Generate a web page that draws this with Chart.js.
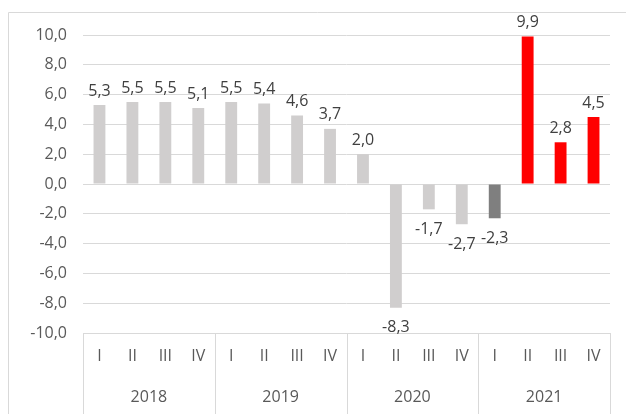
<!DOCTYPE html>
<html>
<head>
<meta charset="utf-8">
<script src="https://cdn.jsdelivr.net/npm/chart.js@4/dist/chart.umd.min.js"></script>
<style>
    html, body { margin: 0; padding: 0; background: #fff; }
    #wrap { width: 626px; height: 414px; position: relative; }
</style>
</head>
<body>
<div id="wrap"><canvas id="chart-growth"></canvas></div>
<script>
// Quarterly values
const quarters = ['I', 'II', 'III', 'IV', 'I', 'II', 'III', 'IV', 'I', 'II', 'III', 'IV', 'I', 'II', 'III', 'IV'];
const years = ['2018', '2019', '2020', '2021'];
const growth = [5.3, 5.5, 5.5, 5.1, 5.5, 5.4, 4.6, 3.7, 2.0, -8.3, -1.7, -2.7, -2.3, 9.9, 2.8, 4.5];
const yTicks = [-10, -8, -6, -4, -2, 0, 2, 4, 6, 8, 10];

const LIGHT = '#d0cece', DARK = '#7f7f7f', RED = '#ff0000';
const barColors = growth.map((v, i) => i < 12 ? LIGHT : (i === 12 ? DARK : RED));

const TEXT = '#595959';
const FONT = '"Open Sans", "Liberation Sans", sans-serif';
const fmt = v => v.toFixed(1).replace('.', ',');

// frame + year groups under the axis
const groupAxis = {
    id: 'groupAxis',
    beforeDraw(chart) {
        const ctx = chart.ctx;
        ctx.save();
        ctx.strokeStyle = '#d9d9d9';
        ctx.lineWidth = 1;
        ctx.beginPath();
        ctx.moveTo(8.5, 414); ctx.lineTo(8.5, 12.5); ctx.lineTo(626, 12.5);
        ctx.stroke();
        ctx.restore();
    },
    afterDraw(chart) {
        const ctx = chart.ctx;
        const xs = chart.scales.x;
        const area = chart.chartArea;
        const step = (area.right - area.left) / quarters.length;
        ctx.save();
        ctx.strokeStyle = '#d9d9d9';
        ctx.lineWidth = 1;
        for (let g = 0; g <= years.length; g++) {
            const x = Math.round(area.left + g * 4 * step) + 0.5;
            ctx.beginPath();
            ctx.moveTo(x, area.bottom);
            ctx.lineTo(x, chart.height);
            ctx.stroke();
        }
        ctx.fillStyle = TEXT;
        ctx.font = '16px ' + FONT;
        ctx.textAlign = 'center';
        ctx.textBaseline = 'middle';
        years.forEach((y, g) => {
            const cx = (xs.getPixelForValue(g * 4) + xs.getPixelForValue(g * 4 + 3)) / 2;
            ctx.fillText(y, cx, 397);
        });
        ctx.restore();
    }
};

// value labels on the bars
const barLabels = {
    id: 'barLabels',
    afterDatasetsDraw(chart) {
        const ctx = chart.ctx;
        const meta = chart.getDatasetMeta(0);
        ctx.save();
        ctx.fillStyle = '#404040';
        ctx.font = '16px ' + FONT;
        ctx.textAlign = 'center';
        ctx.textBaseline = 'middle';
        meta.data.forEach((bar, i) => {
            const v = growth[i];
            const y = v >= 0 ? bar.y - 14 : bar.y + 20;
            ctx.fillText(fmt(v), bar.x, y);
        });
        ctx.restore();
    }
};

const ctxGrowth = document.getElementById('chart-growth');
window.growthChart = new Chart(ctxGrowth, {
    type: 'bar',
    data: {
        labels: quarters,
        datasets: [{
            data: growth,
            backgroundColor: barColors,
            borderWidth: 0,
            barPercentage: 0.36,
            categoryPercentage: 1
        }]
    },
    options: {
        responsive: true,
        maintainAspectRatio: false,
        animation: false,
        layout: { padding: { top: 35, right: 16, left: 0, bottom: 0 } },
        plugins: { legend: { display: false }, tooltip: { enabled: false } },
        scales: {
            y: {
                min: -10, max: 10,
                afterBuildTicks: s => { s.ticks = yTicks.map(v => ({ value: v })); },
                afterFit: s => { s.width = 83; },
                ticks: { color: TEXT, font: { family: FONT, size: 16 }, padding: 16, callback: v => fmt(v) },
                grid: { color: '#d9d9d9', drawTicks: false },
                border: { display: false }
            },
            x: {
                afterFit: s => { s.height = 81; },
                ticks: { color: TEXT, font: { family: FONT, size: 16 }, padding: 14, maxRotation: 0, autoSkip: false },
                grid: { display: false, drawTicks: false },
                border: { display: true, color: '#d9d9d9' }
            }
        }
    },
    plugins: [groupAxis, barLabels]
});
</script>
</body>
</html>
